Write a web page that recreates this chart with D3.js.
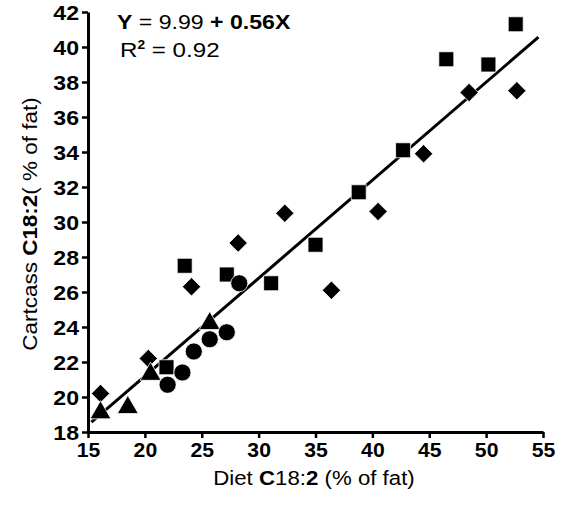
<!DOCTYPE html>
<html>
<head>
<meta charset="utf-8">
<script src="https://cdn.jsdelivr.net/npm/d3@7"></script>
<style>
  body { margin: 0; background: #fff; }
  svg text { font-family: "Liberation Sans", Arial, sans-serif; fill: #000; }
</style>
</head>
<body>
<svg id="chart" width="564" height="506"></svg>
<script>
// values
const squareX = [52.6, 46.5, 50.2, 42.7, 38.8, 35.0, 23.5, 27.2, 31.1, 21.9];
const squareY = [41.3, 39.3, 39.0, 34.1, 31.7, 28.7, 27.5, 27.0, 26.5, 21.7];
const diamondX = [48.5, 52.7, 44.5, 40.5, 32.3, 28.2, 24.1, 36.4, 20.3, 16.1];
const diamondY = [37.4, 37.5, 33.9, 30.6, 30.5, 28.8, 26.3, 26.1, 22.2, 20.2];
const triangleX = [25.7, 20.5, 16.1, 18.5];
const triangleY = [24.2, 21.3, 19.1, 19.4];
const circleX = [28.3, 27.2, 25.7, 24.3, 23.3, 22.0];
const circleY = [26.5, 23.7, 23.3, 22.6, 21.4, 20.7];

// regression from the equation printed on the chart
const intercept = 9.99;
const slope = 0.56;
const fitRange = [15.3, 54.6];

const xTicks = [15, 20, 25, 30, 35, 40, 45, 50, 55];
const yTicks = [18, 20, 22, 24, 26, 28, 30, 32, 34, 36, 38, 40, 42];

const svg = d3.select("#chart");
const margin = { left: 88, right: 21, top: 12, bottom: 74 };
const W = 564, H = 506;

const x = d3.scaleLinear().domain([15, 55]).range([margin.left, W - margin.right]);
const y = d3.scaleLinear().domain([18, 42]).range([H - margin.bottom, margin.top]);

// axes
const xAxis = svg.append("g")
  .attr("transform", "translate(0," + y(18) + ")")
  .call(d3.axisBottom(x).tickValues(xTicks).tickSize(6).tickPadding(4).tickSizeOuter(0));
const yAxis = svg.append("g")
  .attr("transform", "translate(" + x(15) + ",0)")
  .call(d3.axisLeft(y).tickValues(yTicks).tickSize(6).tickPadding(3).tickSizeOuter(0));

[xAxis, yAxis].forEach(function(a) {
  a.select(".domain").attr("stroke", "#000").attr("stroke-width", 3);
  a.selectAll(".tick line").attr("stroke", "#000").attr("stroke-width", 2.5);
  a.selectAll(".tick text")
    .style("font-family", '"Liberation Sans", Arial, sans-serif')
    .style("font-weight", "bold")
    .attr("fill", "#000");
});
// the labels in the picture are a little wider than the font
xAxis.selectAll(".tick text")
  .style("font-size", "20px")
  .attr("y", 11)
  .attr("transform", "scale(1.06,1)");
yAxis.selectAll(".tick text")
  .style("font-size", "21px")
  .attr("dy", "0.36em")
  .attr("x", -9 / 1.1)
  .attr("transform", "scale(1.1,1)");

// fit line
svg.append("line")
  .attr("x1", x(fitRange[0]))
  .attr("y1", y(intercept + slope * fitRange[0]))
  .attr("x2", x(fitRange[1]))
  .attr("y2", y(intercept + slope * fitRange[1]))
  .attr("stroke", "#000")
  .attr("stroke-width", 3);

function drawPoints(xs, ys, type, size, rotate) {
  const sym = d3.symbol().type(type).size(size);
  svg.append("g")
    .selectAll("path")
    .data(xs.map(function(d, i) { return [d, ys[i]]; }))
    .join("path")
    .attr("d", sym)
    .attr("transform", function(d) {
      return "translate(" + x(d[0]) + "," + y(d[1]) + ") rotate(" + rotate + ")";
    })
    .attr("fill", "#000")
    .attr("stroke", "#fff")
    .attr("stroke-width", 0.8);
}

drawPoints(squareX, squareY, d3.symbolSquare, 225, 0);
drawPoints(diamondX, diamondY, d3.symbolSquare, 170, 45);
drawPoints(triangleX, triangleY, d3.symbolTriangle, 190, 0);
drawPoints(circleX, circleY, d3.symbolCircle, 230, 0);

// equation
const eq = svg.append("text")
  .attr("transform", "translate(117,29) scale(1.1,1)")
  .style("font-size", "21px");
eq.append("tspan").style("font-weight", "bold").text("Y");
eq.append("tspan").text(" = 9.99 ");
eq.append("tspan").style("font-weight", "bold").text("+ 0.56X");

const r2 = svg.append("text")
  .attr("transform", "translate(120,57) scale(1.15,1)")
  .style("font-size", "21px");
r2.append("tspan").text("R");
r2.append("tspan").attr("dy", -8).style("font-size", "12px").style("font-weight", "bold").text("2");
r2.append("tspan").attr("dy", 8).text(" = 0.92");

// axis titles
const xt = svg.append("text")
  .attr("transform", "translate(314,485) scale(1.06,1)")
  .attr("text-anchor", "middle")
  .style("font-size", "21px");
xt.append("tspan").text("Diet ");
xt.append("tspan").style("font-weight", "bold").text("C");
xt.append("tspan").text("18:");
xt.append("tspan").style("font-weight", "bold").text("2");
xt.append("tspan").text(" (% of fat)");

const yt = svg.append("text")
  .attr("transform", "translate(37,224) rotate(-90) scale(1.07,1)")
  .attr("text-anchor", "middle")
  .style("font-size", "21px");
yt.append("tspan").text("Cartcass ");
yt.append("tspan").style("font-weight", "bold").text("C18:2");
yt.append("tspan").text("( % of fat)");
</script>
</body>
</html>
